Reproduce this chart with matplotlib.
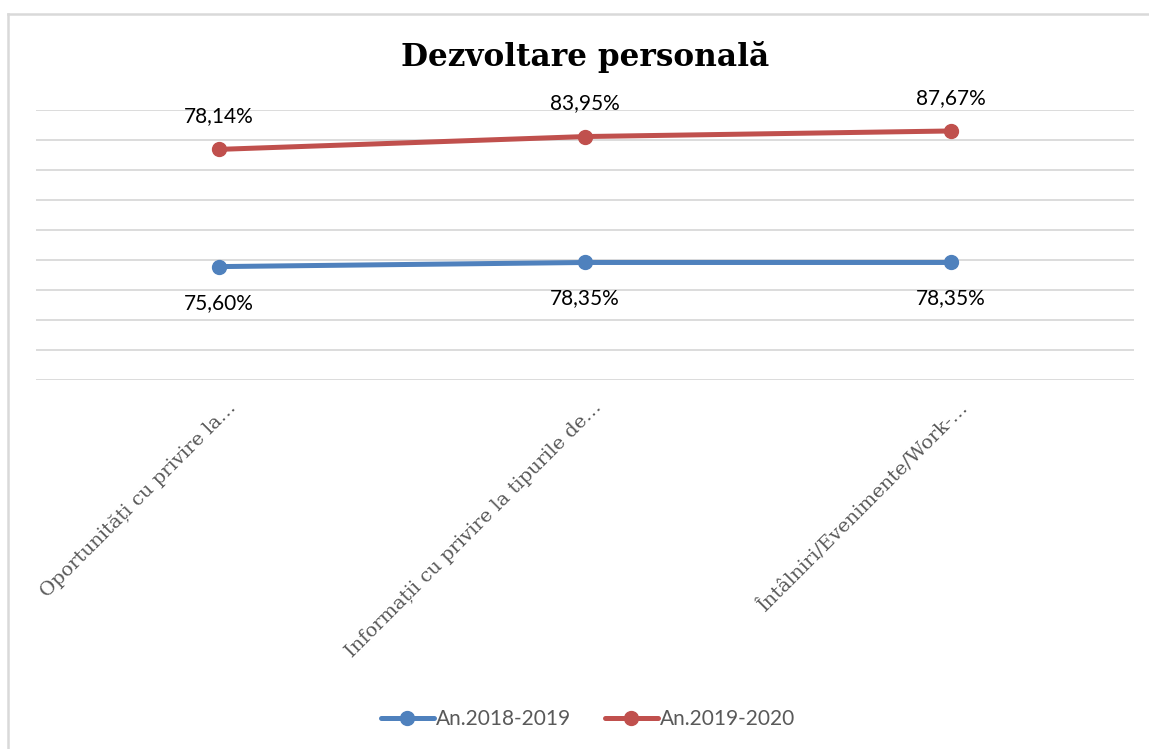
import numpy as np
import matplotlib
matplotlib.use("Agg")
import matplotlib.pyplot as plt
from matplotlib.lines import Line2D
from matplotlib.transforms import ScaledTranslation

categories = ["Oportunități cu privire la…",
              "Informații cu privire la tipurile de…",
              "Întâlniri/Evenimente/Work-…"]
series_names = ["An.2018-2019", "An.2019-2020"]
values_2018 = [75.60, 78.35, 78.35]
values_2019 = [78.14, 83.95, 87.67]
colors = ["#4f81bd", "#c0504d"]

W, H = 1149, 749
fig = plt.figure(figsize=(W / 100, H / 100), dpi=100)
fig.patch.set_facecolor("white")

ax = fig.add_axes([36 / W, (H - 380) / H, 1098 / W, 270 / H])
x = np.arange(len(categories))
ax.set_xlim(-0.5, len(categories) - 0.5)
ax.set_ylim(0, 180)

# stacked line chart (as in the source spreadsheet)
s1 = np.array(values_2018)
s2 = s1 + np.array(values_2019)

ax.set_yticks(np.arange(0, 181, 20))
ax.yaxis.grid(True, color="#d9d9d9", linewidth=1.3)
ax.set_axisbelow(True)
ax.tick_params(axis="y", left=False, labelleft=False)
ax.tick_params(axis="x", bottom=False, length=0, pad=2)
for sp in ax.spines.values():
    sp.set_visible(False)

l1, = ax.plot(x, s1, color=colors[0], lw=3.6, marker="o", markersize=10,
              solid_capstyle="round", label=series_names[0], zorder=3)
l2, = ax.plot(x, s2, color=colors[1], lw=3.6, marker="o", markersize=10,
              solid_capstyle="round", label=series_names[1], zorder=3)

def fmt(v):
    return f"{v:.2f}".replace(".", ",") + "%"

for xi, yi, v in zip(x, s1, values_2018):
    ax.annotate(fmt(v), (xi, yi), xytext=(0, -36), textcoords="offset pixels",
                ha="center", va="center", fontsize=15, family="Lato", color="black")
for xi, yi, v in zip(x, s2, values_2019):
    ax.annotate(fmt(v), (xi, yi), xytext=(0, 33), textcoords="offset pixels",
                ha="center", va="center", fontsize=15, family="Lato", color="black")

ax.set_xticks(x)
ax.set_xticklabels(categories, rotation=45, ha="right", va="center",
                   rotation_mode="anchor", fontsize=14, family="DejaVu Serif",
                   color="#595959")
offset = ScaledTranslation(14 / 100, -22 / 100, fig.dpi_scale_trans)
for lab in ax.get_xticklabels():
    lab.set_transform(lab.get_transform() + offset)

fig.text(585 / W, 1 - 57 / H, "Dezvoltare personală", ha="center", va="center",
         fontsize=22.4, fontweight="bold", family="DejaVu Serif", color="black")

leg = fig.legend(handles=[l1, l2], loc="center", bbox_to_anchor=(588 / W, 1 - 719 / H),
                 ncol=2, frameon=False, handlelength=2.55, handletextpad=0.1,
                 columnspacing=1.6, prop={"family": "Lato", "size": 15})
for t in leg.get_texts():
    t.set_color("#595959")

# chart border (light gray)
fig.add_artist(Line2D([8 / W, 8 / W], [1 - 14 / H, 0], transform=fig.transFigure,
                      color="#d9d9d9", lw=1.8))
fig.add_artist(Line2D([8 / W, 1], [1 - 14 / H, 1 - 14 / H], transform=fig.transFigure,
                      color="#d9d9d9", lw=1.8))

fig.savefig("out.png", dpi=100, facecolor="white")
